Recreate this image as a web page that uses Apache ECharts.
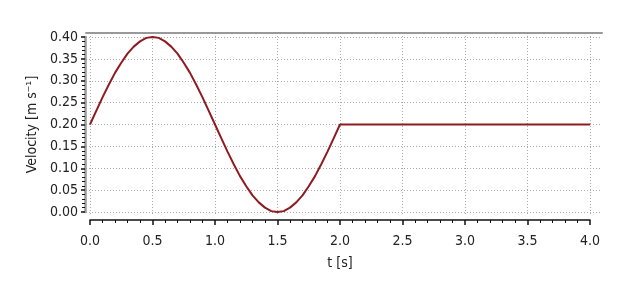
<!DOCTYPE html>
<html><head><meta charset="utf-8">
<script src="https://cdn.jsdelivr.net/npm/echarts@6/dist/echarts.min.js"></script>
<style>html,body{margin:0;padding:0;background:#fff}#c{width:630px;height:300px}</style>
</head><body><div id="c"></div>
<script>
const timeValues = [0.00,0.05,0.10,0.15,0.20,0.25,0.30,0.35,0.40,0.45,0.50,0.55,0.60,0.65,0.70,0.75,0.80,0.85,0.90,0.95,1.00,1.05,1.10,1.15,1.20,1.25,1.30,1.35,1.40,1.45,1.50,1.55,1.60,1.65,1.70,1.75,1.80,1.85,1.90,1.95,2.00,4.00];
const velocityValues = [0.200,0.231,0.262,0.291,0.318,0.341,0.362,0.378,0.390,0.398,0.400,0.398,0.390,0.378,0.362,0.341,0.318,0.291,0.262,0.231,0.200,0.169,0.138,0.109,0.082,0.059,0.038,0.022,0.010,0.002,0.000,0.002,0.010,0.022,0.038,0.059,0.082,0.109,0.138,0.169,0.200,0.200];
const xAxisName = 't [s]';
const yAxisName = 'Velocity [m s\u207B\u00B9]';
const xMin = 0, xMax = 4, xStep = 0.5;
const yMin = 0, yMax = 0.4, yStep = 0.05;

const FONT = '"DejaVu Sans Condensed","DejaVu Sans",sans-serif';
const TXT = {fontFamily:FONT, fontSize:14, color:'#222'};
const dotted = {show:true, lineStyle:{color:'#aaa', type:[1,2], width:1}};
const chart = echarts.init(document.getElementById('c'), null, {renderer:'canvas'});
chart.setOption({
  animation:false,
  backgroundColor:'#fff',
  grid:[
    {left:90, right:40, top:37, bottom:88},
    {left:86, right:28, top:37, bottom:88},
    {left:90, right:40, top:33, bottom:84}
  ],
  xAxis:[
    {gridIndex:0, type:'value', min:xMin, max:xMax, interval:xStep, offset:8,
     axisLine:{show:true, onZero:false, lineStyle:{color:'#111', width:1.5}},
     axisTick:{show:true, length:5, lineStyle:{color:'#111', width:1.5}},
     minorTick:{show:true, splitNumber:5, length:3, lineStyle:{color:'#111', width:1}},
     splitLine:{show:false},
     axisLabel:Object.assign({margin:14, formatter:v=>v.toFixed(1)}, TXT),
     name:xAxisName, nameLocation:'middle', nameGap:36,
     nameTextStyle:TXT},
    {gridIndex:1, type:'value', min:xMin, max:xMax, position:'top', offset:4,
     axisLine:{show:true, onZero:false, lineStyle:{color:'#999', width:2}},
     axisTick:{show:false}, axisLabel:{show:false}, splitLine:{show:false}},
    {gridIndex:2, type:'value', min:xMin, max:xMax, interval:xStep,
     axisLine:{show:false}, axisTick:{show:false}, axisLabel:{show:false},
     splitLine:dotted}
  ],
  yAxis:[
    {gridIndex:0, type:'value', min:yMin, max:yMax, interval:yStep, offset:5,
     axisLine:{show:true, onZero:false, lineStyle:{color:'#999', width:2.5}},
     axisTick:{show:true, length:4, lineStyle:{color:'#111', width:1.5}},
     minorTick:{show:true, splitNumber:5, length:3, lineStyle:{color:'#111', width:1}},
     splitLine:{show:false},
     axisLabel:Object.assign({margin:7, formatter:v=>v.toFixed(2)}, TXT),
     name:yAxisName, nameLocation:'middle', nameGap:37,
     nameTextStyle:TXT},
    {gridIndex:1, type:'value', min:yMin, max:yMax, interval:yStep,
     axisLine:{show:false}, axisTick:{show:false}, axisLabel:{show:false},
     splitLine:dotted},
    {gridIndex:2, type:'value', min:0, max:1,
     axisLine:{show:false}, axisTick:{show:false}, axisLabel:{show:false}, splitLine:{show:false}}
  ],
  series:[{
    type:'line', xAxisIndex:0, yAxisIndex:0,
    data: timeValues.map((t,i)=>[t, velocityValues[i]]),
    showSymbol:false, smooth:false,
    lineStyle:{color:'#8e1b1f', width:2}, itemStyle:{color:'#8e1b1f'}
  }]
});
</script></body></html>
